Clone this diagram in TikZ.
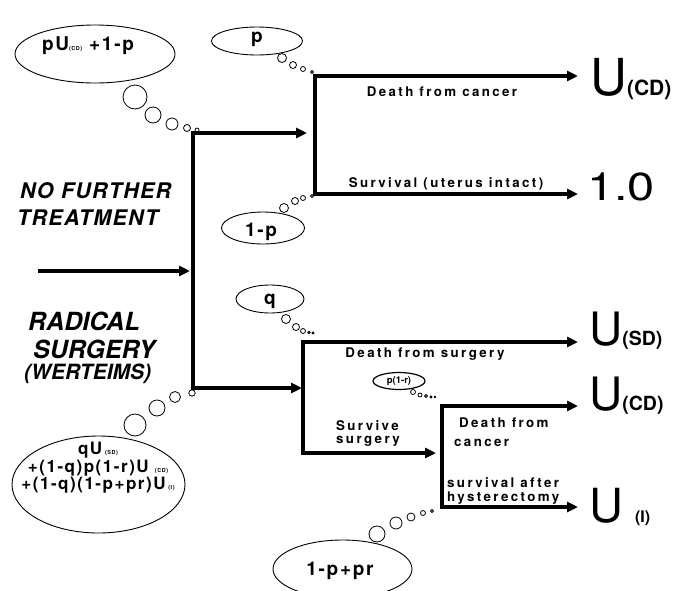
\documentclass[tikz,border=0pt]{standalone}
\usepackage{fontspec}
\setmainfont{TeX Gyre Heros}
\newfontfamily\spacedfont[LetterSpace=18]{TeX Gyre Heros}
\newfontfamily\ellfont[LetterSpace=9]{TeX Gyre Heros}
\newfontfamily\midfont[LetterSpace=6]{TeX Gyre Heros}
\usetikzlibrary{arrows.meta,shapes.geometric}
\newcommand\tinysub[1]{{\fontsize{5.5}{6}\selectfont #1}}
\begin{document}
\begin{tikzpicture}[x=1pt,y=-1pt,
  branch/.style={line width=3.3pt, line join=miter, {Triangle[length=11pt,width=10pt]}-{Triangle[length=11pt,width=10pt]}},
  single/.style={line width=3.3pt, -{Triangle[length=11pt,width=10pt]}},
  cloud/.style={draw, ellipse, line width=0.9pt, inner sep=0pt},
  puff/.style={line width=0.8pt},
  elab/.style={font=\spacedfont\bfseries\fontsize{13.3}{15}\selectfont, inner sep=0pt},
  ptext/.style={font=\ellfont\bfseries\fontsize{19}{21}\selectfont, inner sep=0pt},
  choice/.style={font=\bfseries\itshape\fontsize{25}{28}\selectfont, inner sep=0pt, anchor=base west},
  outc/.style={inner sep=0pt, anchor=base west}
]
\useasboundingbox (0,0) rectangle (689,590);

% branch points and tips
\coordinate (m1) at (193,133); \coordinate (m2) at (193,388);
\coordinate (mt1) at (307,133); \coordinate (mt2) at (302,388);
\coordinate (a1) at (315,76); \coordinate (a2) at (315,194);
\coordinate (at1) at (578,76); \coordinate (at2) at (578,194);
\coordinate (b1) at (303,342); \coordinate (b2) at (303,453);
\coordinate (bt1) at (578,342); \coordinate (bt2) at (436,453);
\coordinate (c1) at (442,406); \coordinate (c2) at (442,507);
\coordinate (ct1) at (578,406); \coordinate (ct2) at (578,507);
\coordinate (s0) at (38,271); \coordinate (s1) at (190,271);

\draw[branch] (mt1) -- (m1) -- (m2) -- (mt2);
\draw[branch] (at1) -- (a1) -- (a2) -- (at2);
\draw[branch] (bt1) -- (b1) -- (b2) -- (bt2);
\draw[branch] (ct1) -- (c1) -- (c2) -- (ct2);
\draw[single] (s0) -- (s1);

% choice labels
\node[choice, font=\midfont\bfseries\itshape\fontsize{21.5}{24}\selectfont] (nf1) at (20,198) {NO FURTHER};
\node[choice, font=\midfont\bfseries\itshape\fontsize{21.5}{24}\selectfont] (nf2) at (17,225) {TREATMENT};
\node[choice] (rs1) at (28,330) {RADICAL};
\node[choice] (rs2) at (33,358) {SURGERY};
\node[choice, font=\bfseries\itshape\fontsize{21}{24}\selectfont] (rs3) at (24,379) {(WERTEIMS)};

% edge labels
\node[elab, anchor=base] (l1) at (442,96.5) {Death from cancer};
\node[elab, anchor=base] (l2) at (446,187) {Survival (uterus intact)};
\node[elab, anchor=base] (l3) at (425,357) {Death from surgery};
\node[elab, anchor=base west] (l4a) at (336,430) {Survive};
\node[elab, anchor=base west] (l4b) at (336,443) {surgery};
\node[elab, anchor=base west] (l5a) at (459,427) {Death from};
\node[elab, anchor=base west] (l5b) at (454,446) {cancer};
\node[elab, anchor=base west] (l6a) at (447,487) {survival after};
\node[elab, anchor=base west] (l6b) at (447,501) {hysterectomy};

% outcomes
\node[outc] (o1) at (590,95) {\fontsize{51}{51}\selectfont U\bfseries\fontsize{21}{21}\selectfont(CD)};
\node[outc] (o2) at (587,200) {\scalebox{1.25}[1]{\fontsize{39}{39}\selectfont 1.0}};
\node[outc] (o3) at (589,345) {\fontsize{46}{46}\selectfont U\bfseries\fontsize{19.5}{20}\selectfont(SD)};
\node[outc] (o4) at (589,410) {\fontsize{46}{46}\selectfont U\bfseries\fontsize{19.5}{20}\selectfont(CD)};
\node[outc] (o5) at (589,522) {\fontsize{47}{47}\selectfont U\hspace{12pt}\bfseries\fontsize{16}{16}\selectfont(I)};

% probability / value clouds
\node[cloud, minimum width=160, minimum height=58] (eA) at (95,54) {};
\node[ptext, anchor=base] (tA) at (88,50) {pU\tinysub{(CD)} +1-p};
\draw[puff] (135,97) circle[radius=12] (153,115) circle[radius=8] (172,124) circle[radius=6] (187,128) circle[radius=3.5] (197,130) circle[radius=2];

\node[cloud, minimum width=91, minimum height=28] (eP) at (257,41) {};
\node[ptext, anchor=base] (tP) at (257,42.5) {p};
\draw[puff] (282,58) circle[radius=4.5] (293,65) circle[radius=3.5] (303,69) circle[radius=2.5] (312,72) circle[radius=1.5];

\node[cloud, minimum width=83, minimum height=32] (e1p) at (263,228) {};
\node[ptext, anchor=base] (t1p) at (261,236) {1-p};
\draw[puff] (284,208) circle[radius=4.5] (295,201) circle[radius=3.5] (303,198) circle[radius=2.5] (312,196) circle[radius=1.5];

\node[cloud, minimum width=68, minimum height=28] (eQ) at (270,299) {};
\node[ptext, anchor=base] (tQ) at (270,304) {q};
\draw[puff] (286,319) circle[radius=4.5] (296,327) circle[radius=3.5] (303,331) circle[radius=2.5] (309,332.5) circle[radius=1.2] (313,333) circle[radius=1];

\node[cloud, minimum width=173, minimum height=97] (eB) at (98.5,484.5) {};
\node[inner sep=0pt, align=center, font=\ellfont\bfseries\fontsize{17}{17.5}\selectfont] (tB) at (98,468)
  {qU\,\tinysub{(SD)}\\+(1-q)p(1-r)U \tinysub{(CD)}\\+(1-q)(1-p+pr)U\,\tinysub{(I)}};
\draw[puff] (135,425) circle[radius=11] (157,408) circle[radius=8] (175,397) circle[radius=5.5] (192,393) circle[radius=3.2];

\node[cloud, line width=1.2pt, minimum width=52, minimum height=17] (eR) at (399,381) {};
\node[inner sep=0pt, font=\bfseries\fontsize{9.5}{10}\selectfont] (tR) at (399,381) {p(1-r)};
\draw[puff] (413,392) circle[radius=2.5] (420,395) circle[radius=2] (426,396) circle[radius=1.5] (431,397) circle[radius=1] (435,397) circle[radius=0.8];

\node[cloud, minimum width=139, minimum height=58] (ePR) at (342.5,569) {};
\node[ptext, anchor=base] (tPR) at (340,575) {1-p+pr};
\draw[puff] (377,534) circle[radius=8] (396,523) circle[radius=6] (411,517) circle[radius=4] (423,513) circle[radius=2.5] (432,511) circle[radius=1.5];
\end{tikzpicture}
\end{document}
